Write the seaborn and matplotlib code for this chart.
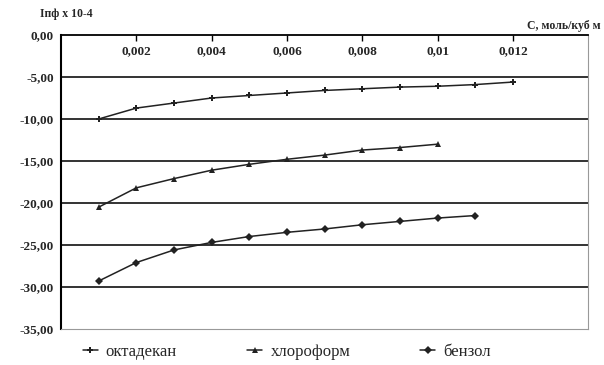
import numpy as np
import pandas as pd
import seaborn as sns
import matplotlib.pyplot as plt

# concentration, mol/m3
conc = [0.001, 0.002, 0.003, 0.004, 0.005, 0.006, 0.007, 0.008, 0.009, 0.010, 0.011, 0.012]
octadecane = [-10.0, -8.7, -8.1, -7.5, -7.2, -6.9, -6.6, -6.4, -6.2, -6.1, -5.9, -5.6]
chloroform = [-20.5, -18.2, -17.1, -16.1, -15.4, -14.8, -14.3, -13.7, -13.4, -13.0]
benzene = [-29.3, -27.1, -25.6, -24.7, -24.0, -23.5, -23.1, -22.6, -22.2, -21.8, -21.5]

names = ['октадекан', 'хлороформ', 'бензол']
xticks = [0.002, 0.004, 0.006, 0.008, 0.010, 0.012]
xticklabels = ['0,002', '0,004', '0,006', '0,008', '0,01', '0,012']
yticks = [0, -5, -10, -15, -20, -25, -30, -35]
yticklabels = ['0,00', '-5,00', '-10,00', '-15,00', '-20,00', '-25,00', '-30,00', '-35,00']

sns.set_style('white')
plt.rcParams['font.family'] = ['Liberation Serif', 'DejaVu Serif']

frames = []
for name, vals in zip(names, [octadecane, chloroform, benzene]):
    frames.append(pd.DataFrame({'C': conc[:len(vals)], 'I': vals, 'name': name}))
df = pd.concat(frames)

fig = plt.figure(figsize=(6.04, 3.65), dpi=100)
ax = fig.add_axes([0.101, 0.099, 0.873, 0.805])

markers = {'октадекан': 'P', 'хлороформ': '^', 'бензол': 'D'}
sizes = {'октадекан': 5, 'хлороформ': 5, 'бензол': 4}
for name in names:
    d = df[df['name'] == name]
    sns.lineplot(data=d, x='C', y='I', ax=ax, color='#222222', lw=1.1,
                 marker=markers[name], markersize=sizes[name],
                 markeredgewidth=0, label=name)

ax.set_xlim(0, 0.014)
ax.set_ylim(-35, 0)
ax.set_yticks(yticks)
ax.set_yticklabels(yticklabels, fontsize=9.5, fontweight='bold')
for y in yticks[1:-1]:
    ax.axhline(y, color='#111111', lw=1.2, zorder=0)

ax.xaxis.tick_top()
ax.set_xticks(xticks)
ax.set_xticklabels(xticklabels, fontsize=9.5, fontweight='bold')
ax.tick_params(axis='x', direction='in', length=4, width=1, pad=-16, color='black')
ax.tick_params(axis='y', direction='out', length=3, width=1, color='black', pad=2)
ax.set_xlabel('')
ax.set_ylabel('')

ax.spines['top'].set_color('black')
ax.spines['top'].set_linewidth(1.3)
ax.spines['left'].set_color('black')
ax.spines['left'].set_linewidth(1.5)
ax.spines['right'].set_color('#999999')
ax.spines['bottom'].set_color('#999999')

fig.text(0.066, 0.962, 'Iпф х 10-4', fontsize=8.5, fontweight='bold', va='center')
fig.text(0.872, 0.93, 'C, моль/куб м', fontsize=8.5, fontweight='bold', va='center')

ax.legend(loc='center', bbox_to_anchor=(0.475, 0.036), bbox_transform=fig.transFigure,
          ncol=3, frameon=False, fontsize=12, columnspacing=4.2,
          handlelength=0.9, handletextpad=0.5, borderpad=0)

fig.savefig('out.png', dpi=100)
